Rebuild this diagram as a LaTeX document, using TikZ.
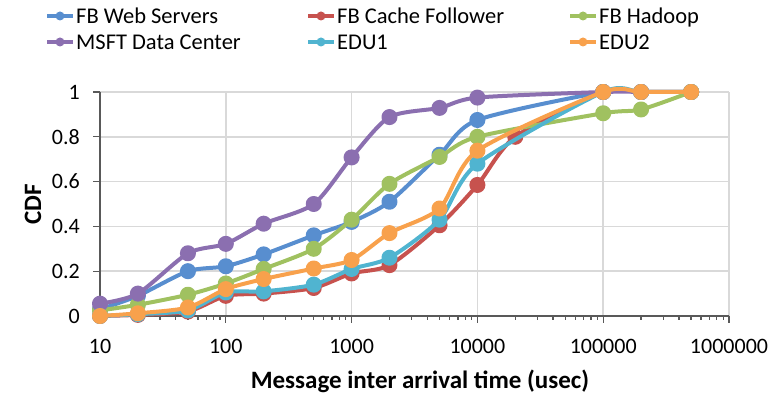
\documentclass[tikz,border=0pt]{standalone}
\usepackage{fontspec}
\setmainfont{Carlito}
\usepackage{tikz}

\definecolor{webc}{RGB}{88,142,207}
\definecolor{cachec}{RGB}{199,82,78}
\definecolor{hadoopc}{RGB}{160,193,96}
\definecolor{msftc}{RGB}{139,111,176}
\definecolor{edu1c}{RGB}{80,180,208}
\definecolor{edu2c}{RGB}{248,161,76}
\definecolor{gridc}{RGB}{217,217,217}
\definecolor{axisc}{RGB}{89,89,89}

\begin{document}
\begin{tikzpicture}[
    x=1pt,y=1pt,
    gridline/.style={draw=gridc,line width=1.5pt},
    axisline/.style={draw=axisc,line width=1.8pt},
    tickmark/.style={draw=axisc,line width=1.3pt},
    ticklabel/.style={inner sep=0pt,font=\fontsize{22}{26}\selectfont},
    axislabel/.style={inner sep=0pt,font=\fontsize{25}{30}\selectfont\bfseries},
    legtext/.style={inner sep=0pt,anchor=base west,font=\fontsize{22.5}{27}\selectfont},
    legline/.style={draw=#1,line width=4pt},
    series/.style={draw=#1,line width=4pt,line join=round,mark=*,mark size=6pt,
                   mark options={draw=none,fill=#1}}
]
\useasboundingbox (0,0) rectangle (773,395);

% legend
\foreach \col/\nm/\lx/\ly [count=\i] in {webc/FB Web Servers/47/379,
    cachec/FB Cache Follower/308/379, hadoopc/FB Hadoop/570/379,
    msftc/MSFT Data Center/47/353, edu1c/EDU1/308/353, edu2c/EDU2/570/353}
{
  \draw[legline=\col] (\lx,\ly) -- ++(26,0);
  \fill[\col] (\lx+13,\ly) circle (4.5);
  \node[legtext] (leg\i) at (\lx+29,\ly-7.5) {\nm};
}

\node[axislabel,rotate=90] (ylab) at (33,191) {CDF};
\node[axislabel,anchor=base] (xlab) at (420,6) {Message inter arrival time (usec)};

% plot area: x = log10(t)-1, y = CDF
\begin{scope}[shift={(100pt,79pt)},x=125.8pt,y=224pt]
  \foreach \d in {1,...,5}
    \draw[gridline] (\d,0) -- (\d,1);
  \foreach \v in {0.2,0.4,0.6,0.8,1}
    \draw[gridline] (0,\v) -- (5,\v);

  \draw[axisline] (0,1) -- (0,0) -- (5,0);
  \foreach \v [count=\i] in {0,0.2,0.4,0.6,0.8,1} {
    \draw[tickmark] (0,\v) -- ++(-7pt,0);
    \node[ticklabel,anchor=east,xshift=-20pt] (ytick\i) at (0,\v) {\v};
  }
  \foreach \d in {0,...,4}
    \foreach \m in {2,...,9}
      \draw[tickmark] ({\d+log10(\m)},0) -- ++(0,-4pt);
  \foreach \d/\l in {0/10,1/100,2/1000,3/10000,4/100000,5/1000000} {
    \draw[tickmark] (\d,0) -- ++(0,-7pt);
    \node[ticklabel,yshift=-30pt] (xtick\d) at (\d,0) {\l};
  }

  \draw[series=webc] plot[smooth,tension=0.45] coordinates {(0,0.03) (0.301,0.09)
    (0.699,0.20) (1,0.222) (1.301,0.275) (1.699,0.36) (2,0.42) (2.301,0.51)
    (2.699,0.72) (3,0.875) (4,1) (4.301,1) (4.699,1)};
  \draw[series=cachec] plot[smooth,tension=0.45] coordinates {(0,0) (0.301,0.005)
    (0.699,0.02) (1,0.09) (1.301,0.10) (1.699,0.125) (2,0.19) (2.301,0.227)
    (2.699,0.405) (3,0.585) (3.301,0.80) (4,1) (4.301,1) (4.699,1)};
  \draw[series=hadoopc] plot[smooth,tension=0.45] coordinates {(0,0.025) (0.301,0.05)
    (0.699,0.095) (1,0.145) (1.301,0.21) (1.699,0.30) (2,0.43) (2.301,0.59)
    (2.699,0.71) (3,0.80) (4,0.905) (4.301,0.922) (4.699,1)};
  \draw[series=msftc] plot[smooth,tension=0.45] coordinates {(0,0.055) (0.301,0.10)
    (0.699,0.28) (1,0.322) (1.301,0.412) (1.699,0.50) (2,0.708) (2.301,0.888)
    (2.699,0.929) (3,0.975) (4,1) (4.301,1)};
  \draw[series=edu1c] plot[smooth,tension=0.45] coordinates {(0,0) (0.301,0.008)
    (0.699,0.025) (1,0.105) (1.301,0.11) (1.699,0.14) (2,0.21) (2.301,0.26)
    (2.699,0.43) (3,0.68) (4,1) (4.301,1) (4.699,1)};
  \draw[series=edu2c] plot[smooth,tension=0.45] coordinates {(0,0) (0.301,0.012)
    (0.699,0.038) (1,0.12) (1.301,0.165) (1.699,0.212) (2,0.25) (2.301,0.37)
    (2.699,0.48) (3,0.738) (4,1) (4.301,1) (4.699,1)};
\end{scope}
\end{tikzpicture}
\end{document}
